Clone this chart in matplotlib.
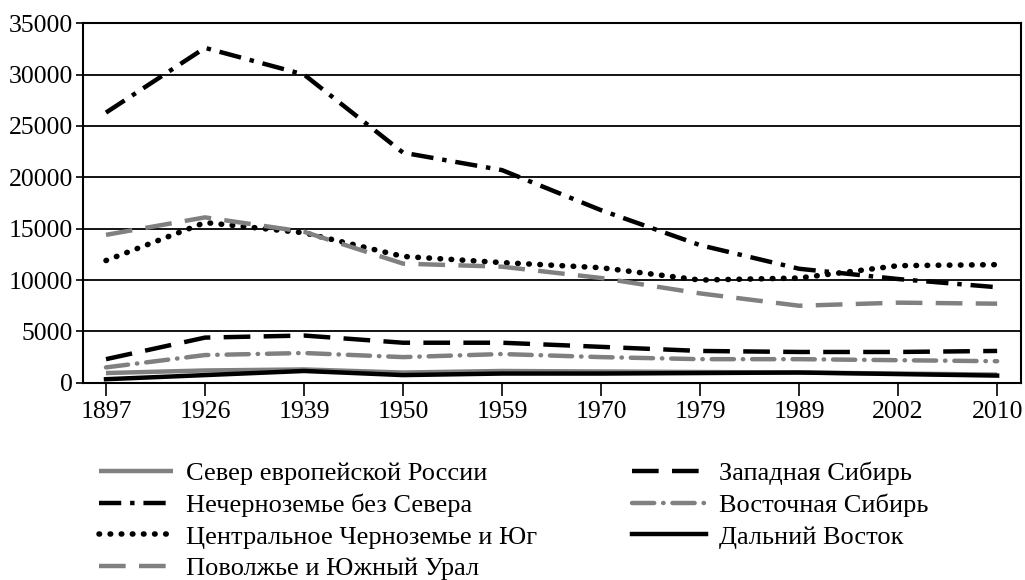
import matplotlib
matplotlib.use('Agg')

import matplotlib.pyplot as plt

plt.rcParams['font.family'] = 'serif'
plt.rcParams['font.serif'] = ['Liberation Serif', 'DejaVu Serif']

years = ['1897', '1926', '1939', '1950', '1959', '1970', '1979', '1989', '2002', '2010']

sever = [950, 1200, 1300, 1000, 1150, 1100, 1050, 1000, 900, 800]
nechernozem = [26300, 32600, 30000, 22400, 20700, 16800, 13400, 11100, 10100, 9300]
chernozem = [11900, 15600, 14600, 12300, 11700, 11200, 10000, 10200, 11400, 11500]
povolzhe = [14400, 16100, 14700, 11600, 11300, 10200, 8700, 7500, 7800, 7700]
zap_sib = [2300, 4400, 4600, 3900, 3900, 3500, 3100, 3000, 3000, 3100]
vost_sib = [1500, 2700, 2900, 2500, 2800, 2500, 2300, 2300, 2200, 2100]
dv = [350, 750, 1150, 750, 900, 900, 950, 1000, 850, 700]

gray = '#808080'

fig = plt.figure(figsize=(10.25, 5.8), dpi=100)
ax = fig.add_axes([0.081, 0.34, 0.915, 0.62])

x = list(range(len(years)))

# order matters for the legend (column-wise fill)
ax.plot(x, sever, color=gray, lw=3.2, solid_capstyle='butt', label='Север европейской России')
ax.plot(x, nechernozem, color='black', lw=3.2, dashes=(5, 2, 1, 2),
        label='Нечерноземье без Севера')
ax.plot(x, chernozem, color='black', lw=4, dashes=(0.1, 1.9), dash_capstyle='round',
        label='Центральное Черноземье и Юг')
ax.plot(x, povolzhe, color=gray, lw=3.2, dashes=(6, 3),
        label='Поволжье и Южный Урал')
ax.plot(x, zap_sib, color='black', lw=3.2, dashes=(6, 3),
        label='Западная Сибирь')
ax.plot(x, vost_sib, color=gray, lw=3.2, dashes=(5, 2, 0.1, 2), dash_capstyle='round',
        label='Восточная Сибирь')
ax.plot(x, dv, color='black', lw=3.2, label='Дальний Восток')

ax.set_ylim(0, 35000)
ax.set_yticks(range(0, 35001, 5000))
ax.set_xlim(-0.232, 9.24)
ax.set_xticks(x)
ax.set_xticklabels(years)
ax.tick_params(labelsize=18.5, width=1.2, color='black')
ax.tick_params(axis='y', length=5, pad=2)
ax.tick_params(axis='x', length=9, pad=4)
ax.yaxis.grid(True, color='black', lw=1.3)
ax.set_axisbelow(True)
for s in ax.spines.values():
    s.set_linewidth(1.5)

handles, labels = ax.get_legend_handles_labels()
fig.legend(handles, labels, ncol=2, loc='upper left', bbox_to_anchor=(0.086, 0.222),
           frameon=False, fontsize=19, handlelength=2.8, handletextpad=0.5,
           columnspacing=3.6, labelspacing=0.31, borderaxespad=0)

plt.savefig('out.png')
